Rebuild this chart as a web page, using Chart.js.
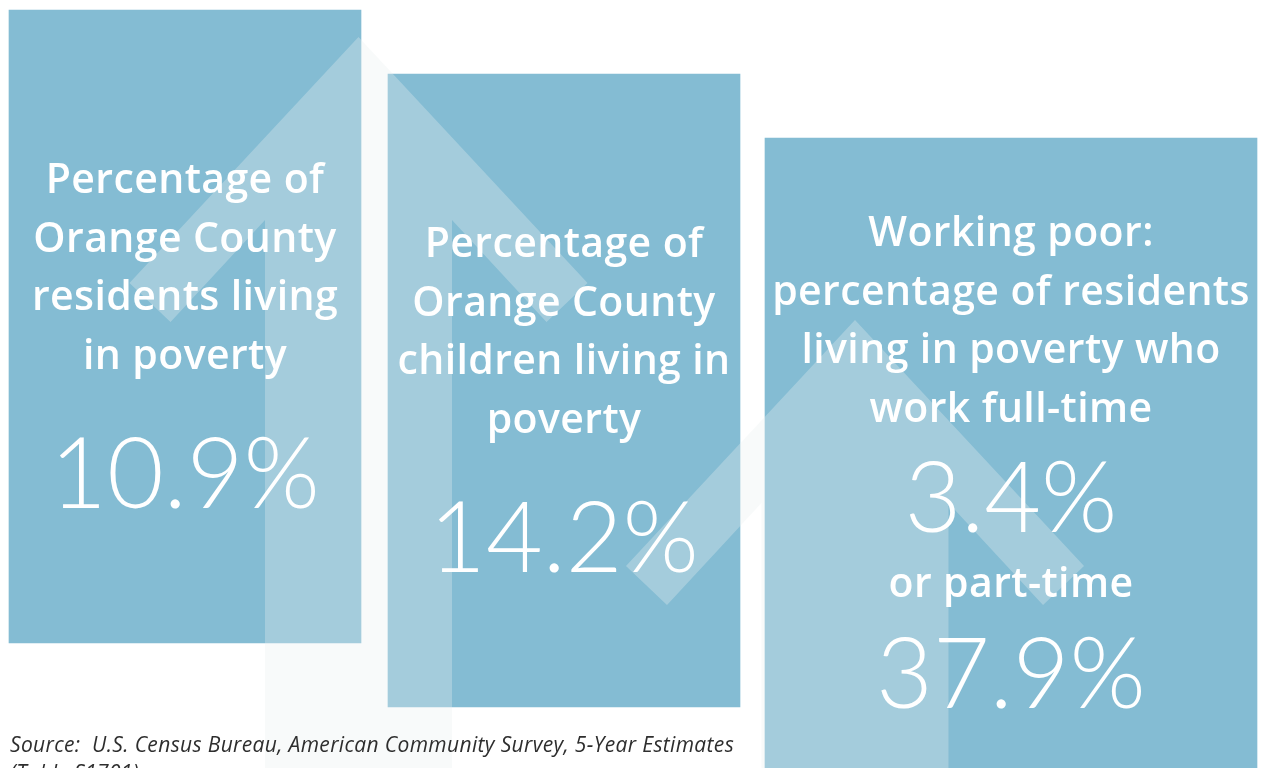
<!DOCTYPE html>
<html><head><meta charset="utf-8">
<script src="https://cdn.jsdelivr.net/npm/chart.js@4.4.0/dist/chart.umd.min.js"></script>
<style>html,body{margin:0;padding:0;background:#fff;overflow:hidden}#wrap{position:relative;width:1261px;height:768px}</style>
</head><body><div id="wrap"><canvas id="c" width="1261" height="768"></canvas></div>
<script>
// ---------- DATA ----------
const categories = ["Residents living in poverty", "Children living in poverty", "Working poor: full-time", "Working poor: part-time"];
const values = [10.9, 14.2, 3.4, 37.9];
const panelTitles = [
  ["Percentage of", "Orange County", "residents living", "in poverty"],
  ["Percentage of", "Orange County", "children living in", "poverty"],
  ["Working poor:", "percentage of residents", "living in poverty who", "work full-time"]
];
const subLabel = "or part-time";
const sourceLines = ["Source:  U.S. Census Bureau, American Community Survey, 5-Year Estimates", "(Table S1701)"];

// ---------- LAYOUT / STYLE ----------
const W = 1261, H = 768;
const PANEL_X = [[9, 361], [388, 740], [765, 1257]];
const PANEL_Y = [[10, 643], [74, 707], [138, 800]];
const ARROWS = [{cx: 358.5, ay: 37}, {cx: 855, ay: 320}];
const ARROW_SHAPE = [[0,0],[229,246],[188,285],[93.5,183],[93.5,1000],[-93.5,1000],[-93.5,183],[-188,285],[-229,246]];
const BAR_COLOR = '#84bcd3';
const ARROW_COLOR = 'rgba(234,240,241,0.32)';
const TITLE_FONT = '"Open Sans", Lato, sans-serif';
const NUM_FONT = 'Lato, "Open Sans", sans-serif';
const TITLE_SIZE = 41, NUM_SIZE = 98, LINE_H = 58.5;

const datasets = PANEL_X.map((px, i) => ({
  label: panelTitles[i].join(' '),
  data: [{x: (px[0] + px[1]) / 2, y: [PANEL_Y[i][0], PANEL_Y[i][1]]}],
  backgroundColor: BAR_COLOR,
  borderWidth: 0,
  barThickness: px[1] - px[0],
  grouped: false
}));

const arrowPlugin = {
  id: 'arrows',
  afterDatasetsDraw(chart) {
    const {ctx, scales: {x, y}} = chart;
    ctx.save();
    ctx.fillStyle = ARROW_COLOR;
    ARROWS.forEach(a => {
      ctx.beginPath();
      ARROW_SHAPE.forEach((p, k) => {
        const px = x.getPixelForValue(a.cx + p[0]);
        const py = y.getPixelForValue(a.ay + p[1]);
        k ? ctx.lineTo(px, py) : ctx.moveTo(px, py);
      });
      ctx.closePath();
      ctx.fill();
    });
    ctx.restore();
  }
};

const fmt = v => v.toFixed(1) + '%';

const textPlugin = {
  id: 'texts',
  afterDraw(chart) {
    const {ctx, scales: {x, y}} = chart;
    ctx.save();
    ctx.fillStyle = '#ffffff';
    ctx.textAlign = 'center';
    ctx.textBaseline = 'alphabetic';
    const blocks = [
      {first: 183, num: 498},
      {first: 183, num: 498},
      {first: 108, num: 394, sub: 459, num2: 570}
    ];
    const titleFont = '600 ' + TITLE_SIZE + 'px ' + TITLE_FONT;
    const numFont = '300 ' + NUM_SIZE + 'px ' + NUM_FONT;
    blocks.forEach((b, i) => {
      const cx = x.getPixelForValue((PANEL_X[i][0] + PANEL_X[i][1]) / 2);
      const top = y.getPixelForValue(PANEL_Y[i][0]);
      ctx.font = titleFont;
      ctx.letterSpacing = '0.4px';
      panelTitles[i].forEach((t, k) => ctx.fillText(t, cx, top + b.first + k * LINE_H));
      ctx.letterSpacing = '0px';
      ctx.font = numFont;
      ctx.fillText(fmt(values[i]), cx, top + b.num);
      if (b.sub) {
        ctx.font = titleFont;
        ctx.letterSpacing = '0.4px';
        ctx.fillText(subLabel, cx, top + b.sub);
        ctx.letterSpacing = '0px';
        ctx.font = numFont;
        ctx.fillText(fmt(values[3]), cx, top + b.num2);
      }
    });
    ctx.fillStyle = '#2e2e2e';
    ctx.textAlign = 'left';
    ctx.font = 'italic 400 21px "Open Sans", Lato, sans-serif';
    ctx.letterSpacing = '0.35px';
    ctx.fillText(sourceLines[0], 10, 752);
    ctx.fillText(sourceLines[1], 10, 780);
    ctx.restore();
  }
};

new Chart(document.getElementById('c'), {
  type: 'bar',
  data: {datasets},
  options: {
    responsive: false,
    animation: false,
    layout: {padding: 0},
    plugins: {legend: {display: false}, tooltip: {enabled: false}},
    scales: {
      x: {type: 'linear', min: 0, max: W, display: false, offset: false},
      y: {type: 'linear', min: 0, max: H, reverse: true, display: false}
    }
  },
  plugins: [arrowPlugin, textPlugin]
});
</script></body></html>
